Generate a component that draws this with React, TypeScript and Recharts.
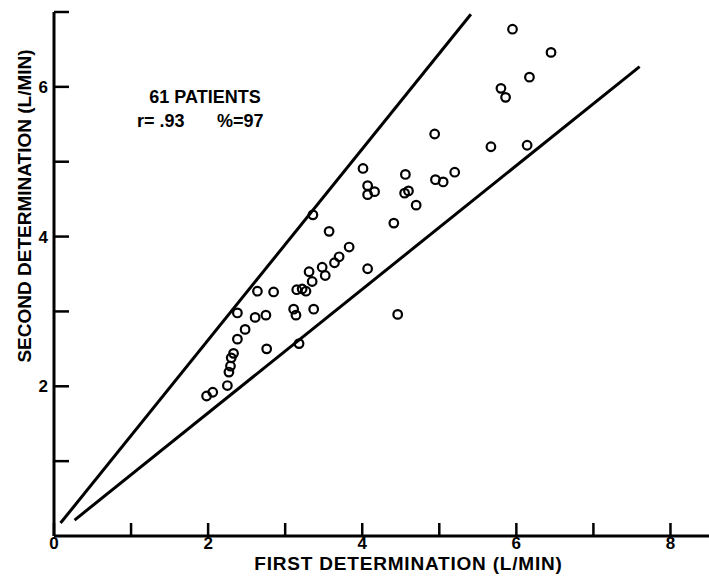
import React from 'react';
import { ScatterChart, Scatter, XAxis, YAxis, ReferenceLine, Label } from 'recharts';

const firstDetermination = [1.98, 2.06, 2.25, 2.27, 2.29, 2.30, 2.33, 2.38, 2.48, 2.61, 2.38, 2.75, 2.64, 2.85, 2.76, 3.11, 3.14, 3.15, 3.22, 3.27, 3.18, 3.37, 3.31, 3.35, 3.48, 3.52, 3.64, 3.70, 3.83, 4.07, 4.94, 5.67, 6.14, 4.01, 4.56, 4.07, 4.16, 4.07, 4.55, 4.60, 4.95, 5.05, 5.20, 4.70, 4.41, 3.57, 4.46, 5.95, 6.45, 6.17, 5.80, 5.86, 3.36];
const secondDetermination = [1.87, 1.92, 2.01, 2.19, 2.27, 2.38, 2.44, 2.63, 2.76, 2.92, 2.98, 2.95, 3.27, 3.26, 2.50, 3.03, 2.95, 3.29, 3.30, 3.27, 2.57, 3.03, 3.53, 3.40, 3.59, 3.48, 3.65, 3.73, 3.86, 3.57, 5.37, 5.20, 5.22, 4.91, 4.83, 4.68, 4.60, 4.56, 4.58, 4.61, 4.76, 4.73, 4.86, 4.42, 4.18, 4.07, 2.96, 6.77, 6.46, 6.13, 5.98, 5.86, 4.29];

const upperBound = [{ x: 0.085, y: 0.173 }, { x: 5.41, y: 6.97 }];
const lowerBound = [{ x: 0.267, y: 0.213 }, { x: 7.6, y: 6.27 }];

const xTicks = [0, 1, 2, 3, 4, 5, 6, 7, 8];
const yTicks = [1, 2, 3, 4, 5, 6, 7];
const xLabeled = [0, 2, 4, 6, 8];
const yLabeled = [2, 4, 6];

const points = firstDetermination.map((x, i) => ({ x, y: secondDetermination[i] }));

const FONT = '"Liberation Sans", Arial, sans-serif';

const Ring = (props: any) => {
  const { cx, cy } = props;
  if (cx == null || cy == null) return null;
  return <circle cx={cx} cy={cy} r={4.3} fill="none" stroke="#000" strokeWidth={2.2} />;
};

const annStyle = { fill: '#000', fontSize: 18, fontWeight: 'bold', fontFamily: FONT };

export default function App() {
  return (
    <div style={{ position: 'absolute', left: 0, top: 0, background: '#fff' }}>
      <ScatterChart width={709} height={580} margin={{ top: 12, right: 0, bottom: 0, left: 0 }}>
        <XAxis
          type="number"
          dataKey="x"
          domain={[0, 8.5]}
          ticks={xTicks}
          interval={0}
          height={44}
          axisLine={{ stroke: '#000', strokeWidth: 3 }}
          tickLine={{ stroke: '#000', strokeWidth: 2.5 }}
          tickSize={-13}
          tickMargin={14}
          tickFormatter={(v: number) => (xLabeled.includes(v) ? String(v) : '')}
          tick={{ fill: '#000', fontSize: 17, fontWeight: 'bold', fontFamily: FONT }}
        >
          <Label
            value="FIRST DETERMINATION   (L/MIN)"
            position="insideTop"
            offset={21}
            dx={27}
            style={{ fill: '#000', fontSize: 19, fontWeight: 'bold', fontFamily: FONT, letterSpacing: 0.8 }}
          />
        </XAxis>
        <YAxis
          type="number"
          dataKey="y"
          domain={[0, 7]}
          ticks={yTicks}
          interval={0}
          width={54}
          axisLine={{ stroke: '#000', strokeWidth: 3 }}
          tickLine={{ stroke: '#000', strokeWidth: 2.5 }}
          tickSize={-15}
          tickMargin={21}
          tickFormatter={(v: number) => (yLabeled.includes(v) ? String(v) : '')}
          tick={{ fill: '#000', fontSize: 17, fontWeight: 'bold', fontFamily: FONT }}
        >
          <Label
            content={() => {
              const cx = 24;
              const cy = 206;
              return (
                <text
                  x={cx}
                  y={cy}
                  transform={`rotate(-90 ${cx} ${cy})`}
                  textAnchor="middle"
                  dominantBaseline="central"
                  style={{ fill: '#000', fontSize: 19, fontWeight: 'bold', fontFamily: FONT }}
                >
                  SECOND DETERMINATION (L/MIN)
                </text>
              );
            }}
          />
        </YAxis>
        <ReferenceLine segment={upperBound} stroke="#000" strokeWidth={3} ifOverflow="visible" />
        <ReferenceLine segment={lowerBound} stroke="#000" strokeWidth={3} ifOverflow="visible" />
        <Scatter data={points} shape={Ring} isAnimationActive={false} />
        <text x={205} y={103} textAnchor="middle" style={annStyle}>
          61 PATIENTS
        </text>
        <text x={137} y={127} textAnchor="start" style={annStyle}>
          r= .93
        </text>
        <text x={217} y={127} textAnchor="start" style={annStyle}>
          %=97
        </text>
      </ScatterChart>
    </div>
  );
}
